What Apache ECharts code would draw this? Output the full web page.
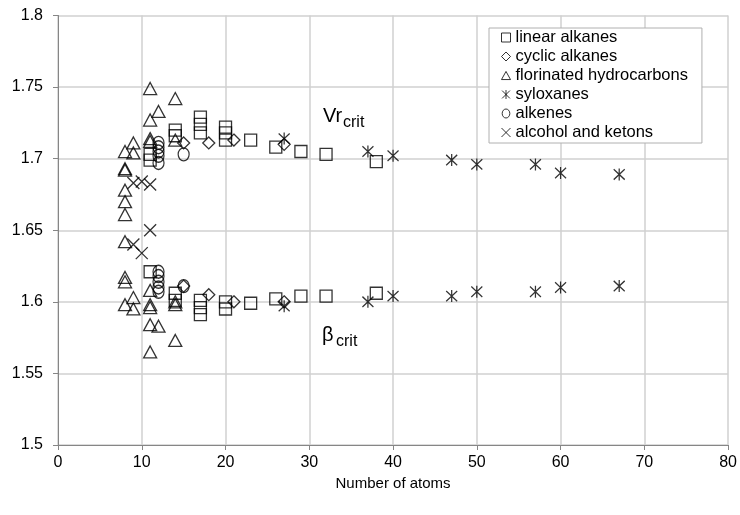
<!DOCTYPE html>
<html><head><meta charset="utf-8">
<script src="https://cdn.jsdelivr.net/npm/echarts@6/dist/echarts.min.js"></script>
<style>html,body{margin:0;padding:0;background:#fff}#c{width:740px;height:515px}</style>
</head><body><div id="c"></div>
<script>
// ---- data ----
const linearX = [11,11,14,14,17,17,17,20,20,20,23,26,29,32,38, 11,14,14,17,17,17,20,20,23,26,29,32,38];
const linearY = [1.703,1.699,1.720,1.716,1.729,1.724,1.718,1.722,1.718,1.713,1.713,1.708,1.705,1.703,1.698,
                 1.621,1.606,1.601,1.601,1.596,1.591,1.600,1.595,1.599,1.602,1.604,1.604,1.606];
const cyclicX = [15,18,21,27, 15,18,21,27];
const cyclicY = [1.711,1.711,1.713,1.710, 1.611,1.605,1.600,1.600];
const fluoroX = [8,8,8,8,8,8,8, 9,9, 11,11,11,11, 12, 14,14,
                 8,8,8, 9,9, 11,11,11,11,11, 12, 14,14,14];
const fluoroY = [1.705,1.693,1.692,1.678,1.670,1.661,1.642, 1.711,1.704, 1.749,1.727,1.714,1.712, 1.733, 1.742,1.713,
                 1.617,1.614,1.598, 1.603,1.595, 1.608,1.598,1.596,1.584,1.565, 1.583, 1.600,1.598,1.573];
const siloxX = [27,37,40,47,50,57,60,67, 27,37,40,47,50,57,60,67];
const siloxY = [1.714,1.705,1.702,1.699,1.696,1.696,1.690,1.689, 1.597,1.600,1.604,1.604,1.607,1.607,1.610,1.611];
const alkeneX = [12,12,12,12,12,15, 12,12,12,12,12,15];
const alkeneY = [1.711,1.708,1.705,1.702,1.697,1.703, 1.621,1.618,1.614,1.610,1.607,1.611];
const alcoholX = [9,10,11, 9,10,11];
const alcoholY = [1.683,1.684,1.682, 1.640,1.634,1.650];
const seriesNames = ['linear alkanes','cyclic alkanes','florinated hydrocarbons','syloxanes','alkenes','alcohol and ketons'];
const xTicks = {min:0, max:80, interval:10};
const yTicks = {min:1.5, max:1.8, interval:0.05};

const zip = (xs, ys) => xs.map((x, i) => [x, ys[i]]);
const FONT = '"Liberation Sans", Arial, sans-serif';
const hollow = {color:'rgba(0,0,0,0)', borderColor:'#000', borderWidth:1.3};

const symbols = {
  sq: 'rect',
  dia: 'path://M0,-1L1,0L0,1L-1,0Z',
  tri: 'path://M0,-1L1,0.8L-1,0.8Z',
  ast: 'path://M-1,-1L1,1M1,-1L-1,1M0,-1.15L0,1.15',
  circ: 'path://M0,-1A0.85,1 0 1 1 0,1A0.85,1 0 1 1 0,-1Z',
  x: 'path://M-1,-1L1,1M1,-1L-1,1'
};

function mk(name, xs, ys, symbol, size) {
  return {name, type:'scatter', data: zip(xs, ys), symbol, symbolSize:size,
          itemStyle: hollow, emphasis:{disabled:true}, animation:false};
}

const chart = echarts.init(document.getElementById('c'), null, {renderer:'canvas'});
chart.setOption({
  animation:false,
  backgroundColor:'#fff',
  grid:{left:58, right:11, top:15.5, bottom:70},
  xAxis:{type:'value', min:xTicks.min, max:xTicks.max, interval:xTicks.interval,
    name:'Number of atoms', nameLocation:'middle', nameGap:27,
    nameTextStyle:{fontFamily:FONT, fontSize:15, color:'#000'},
    axisLine:{show:true, lineStyle:{color:'#868686'}},
    axisTick:{show:true, length:5, lineStyle:{color:'#868686'}},
    axisLabel:{fontFamily:FONT, fontSize:16, color:'#000', margin:10},
    splitLine:{show:true, lineStyle:{color:'#d0d0d0', width:1.5}}},
  yAxis:{type:'value', min:yTicks.min, max:yTicks.max, interval:yTicks.interval,
    axisLine:{show:true, lineStyle:{color:'#868686'}},
    axisTick:{show:true, length:5, lineStyle:{color:'#868686'}},
    axisLabel:{fontFamily:FONT, fontSize:16, color:'#000', margin:15},
    splitLine:{show:true, lineStyle:{color:'#d0d0d0', width:1.5}}},
  legend:{orient:'vertical', left:489, top:28,
    backgroundColor:'#fff', borderColor:'#b0b0b0', borderWidth:1,
    padding:[1,14,2,12], itemGap:2, itemWidth:9, itemHeight:9,
    textStyle:{fontFamily:FONT, fontSize:16.5, color:'#000'},
    itemStyle:{color:'rgba(0,0,0,0)', borderColor:'#000', borderWidth:1},
    selectedMode:false,
    data: seriesNames},
  graphic:[
    {type:'text', left:323, top:106, style:{text:'Vr', font:'20px '+FONT, fill:'#000'}},
    {type:'text', left:343, top:115, style:{text:'crit', font:'16px '+FONT, fill:'#000'}},
    {type:'text', left:322, top:325, style:{text:'β', font:'20px '+FONT, fill:'#000'}},
    {type:'text', left:336, top:334, style:{text:'crit', font:'16px '+FONT, fill:'#000'}}
  ],
  series:[
    mk(seriesNames[0], linearX, linearY, symbols.sq, 12),
    mk(seriesNames[1], cyclicX, cyclicY, symbols.dia, 12),
    mk(seriesNames[2], fluoroX, fluoroY, symbols.tri, [13,12]),
    mk(seriesNames[3], siloxX, siloxY, symbols.ast, [11,12]),
    mk(seriesNames[4], alkeneX, alkeneY, symbols.circ, [11,13]),
    mk(seriesNames[5], alcoholX, alcoholY, symbols.x, 12)
  ]
});
</script></body></html>
